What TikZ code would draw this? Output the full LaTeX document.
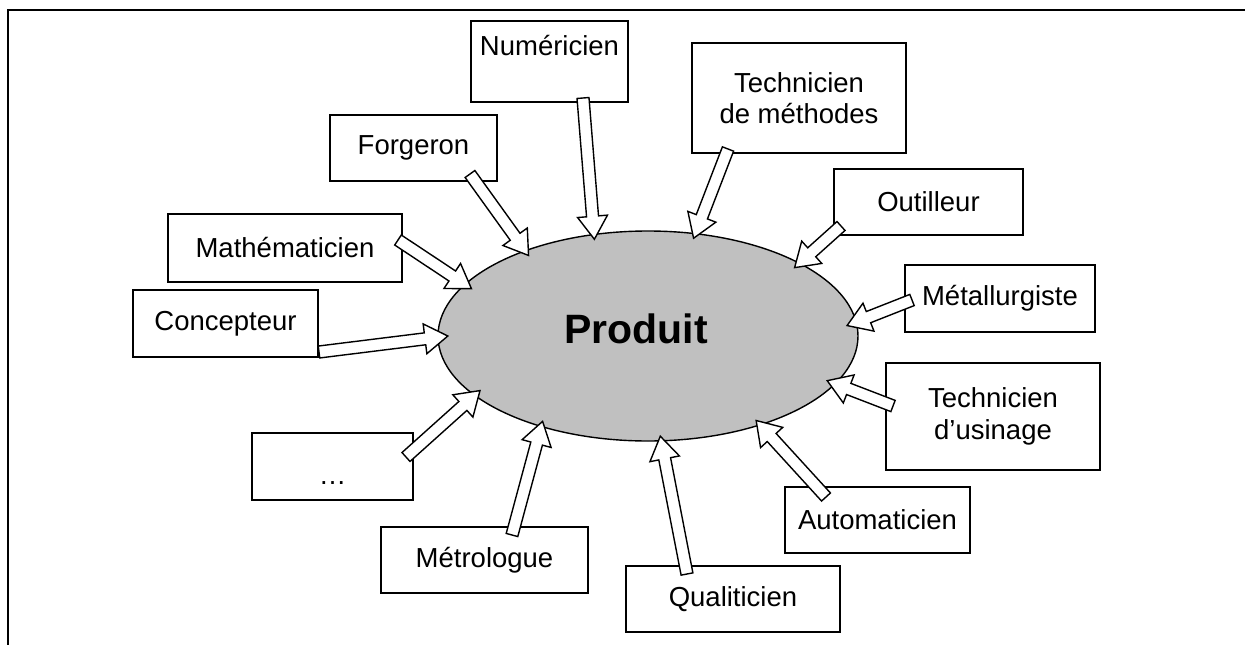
\documentclass[tikz,border=0pt]{standalone}
\usepackage{fontspec}
\setmainfont{Liberation Sans}
\usetikzlibrary{calc,shapes.geometric}
\tikzset{
  box/.style={draw, line width=1.4pt, inner sep=0pt, align=center,
    font=\fontsize{27.5}{31.5}\selectfont},
  flowline/.style={draw, fill=white, line width=1.4pt, line join=miter},
}
% hollow block arrow from a coordinate to the border of the product
\newcommand\flow[2]{%
  \coordinate (tip) at ($(prod.center)!.95!(prod.#2)$);
  \coordinate (neck) at ($(tip)!23pt!(#1)$);
  \filldraw[flowline] ($(#1)!6pt!90:(tip)$) -- ($(neck)!6pt!-90:(#1)$)
    -- ($(neck)!15pt!-90:(#1)$) -- (tip) -- ($(neck)!15pt!90:(#1)$)
    -- ($(neck)!6pt!90:(#1)$) -- ($(#1)!6pt!-90:(tip)$) -- cycle;
}
\begin{document}
\begin{tikzpicture}[x=1pt, y=-1pt]
  \useasboundingbox (0,0) rectangle (1245,645);
  \draw[line width=2pt] (7.7,645) -- (7.7,10.3) -- (1245,10.3);

  \node[ellipse, draw, line width=1.4pt, fill={rgb,255:red,192;green,192;blue,192},
    minimum width=420, minimum height=210, inner sep=0pt, text depth=14pt,
    font=\fontsize{41}{48}\bfseries] (prod) at (648,336) {Produit\kern24pt};

  \node[box, minimum width=157, minimum height=81] (num) at (549.5,61.5) {Numéricien\\\mbox{}};
  \node[box, minimum width=214, minimum height=110] (meth) at (799,98) {Technicien\\de méthodes};
  \node[box, minimum width=167, minimum height=66] (forg) at (413.5,148) {Forgeron};
  \node[box, minimum width=189, minimum height=66] (outil) at (928.5,202) {Outilleur};
  \node[box, minimum width=234, minimum height=68] (math) at (285,248) {Mathématicien};
  \node[box, minimum width=190, minimum height=67] (metal) at (1000,298.5) {Métallurgiste};
  \node[box, minimum width=185, minimum height=67] (conc) at (225.5,323.5) {Concepteur};
  \node[box, minimum width=214, minimum height=107] (usin) at (993,416.5) {Technicien\\d’usinage};
  \node[box, minimum width=161, minimum height=67, text height=36pt, text depth=0pt] (dots) at (332.5,466.5) {…};
  \node[box, minimum width=185, minimum height=66] (auto) at (877.5,520) {Automaticien};
  \node[box, minimum width=207, minimum height=66] (metro) at (484.5,560) {Métrologue};
  \node[box, minimum width=214, minimum height=66] (qual) at (733,599) {Qualiticien};

  \coordinate (forg-out) at (470,174);
  \coordinate (num-out) at (583,98);
  \coordinate (meth-out) at (728,149);
  \coordinate (outil-out) at (841,226);
  \coordinate (metal-out) at (912,300);
  \coordinate (usin-out) at (893,406);
  \coordinate (auto-out) at (826,497);
  \coordinate (qual-out) at (687,574);
  \coordinate (metro-out) at (512,535);
  \coordinate (dots-out) at (406,457);
  \coordinate (conc-out) at (319,352);
  \coordinate (math-out) at (398,240);

  \flow{forg-out}{146.5}
  \flow{num-out}{119.7}
  \flow{meth-out}{65.2}
  \flow{outil-out}{25.5}
  \flow{metal-out}{3.9}
  \flow{usin-out}{346}
  \flow{auto-out}{322.7}
  \flow{qual-out}{277.4}
  \flow{metro-out}{219.6}
  \flow{dots-out}{198.3}
  \flow{conc-out}{180}
  \flow{math-out}{165.8}
\end{tikzpicture}
\end{document}
